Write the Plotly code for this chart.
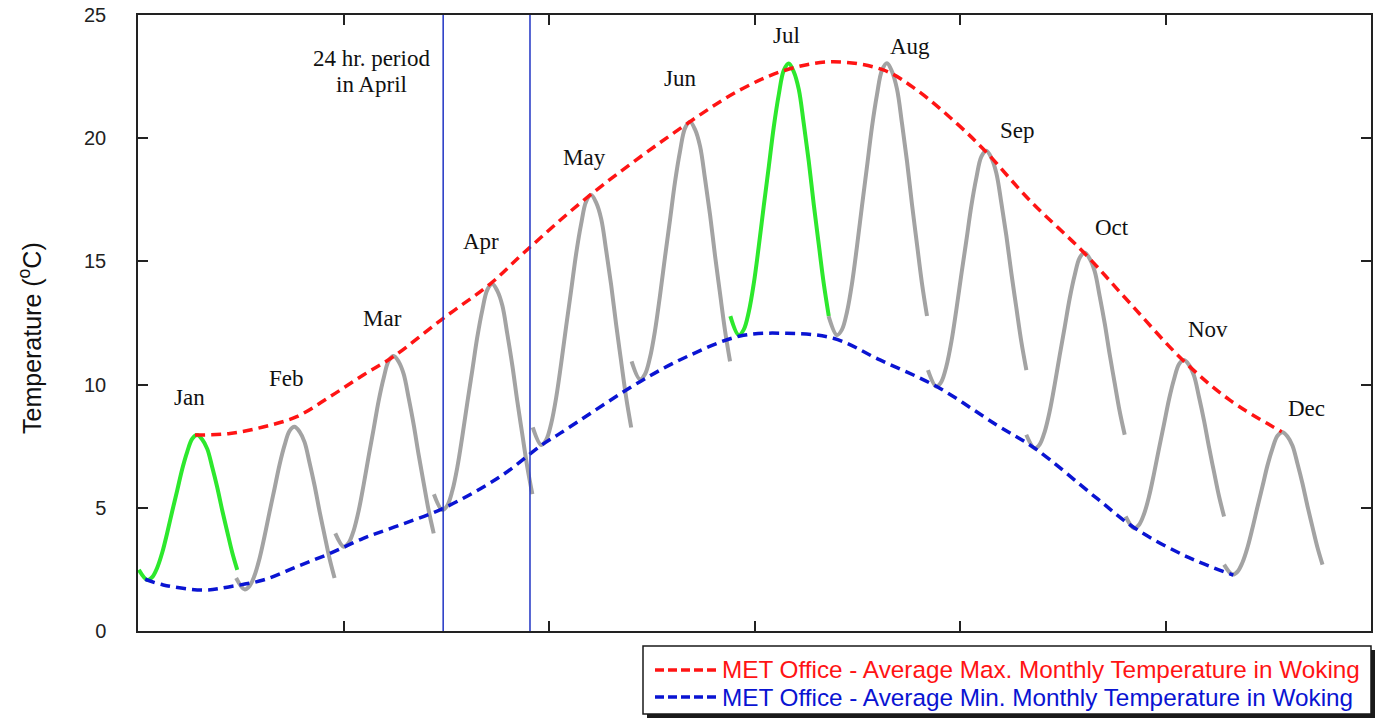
import plotly.graph_objects as go

# ---- Monthly typical-day temperature curves (x axis in months, 0..12) ----
MONTHS = ["Jan", "Feb", "Mar", "Apr", "May", "Jun",
          "Jul", "Aug", "Sep", "Oct", "Nov", "Dec"]
DAY_START = [0.008, 0.955, 1.92, 2.88, 3.842, 4.804,
             5.765, 6.721, 7.688, 8.645, 9.612, 10.57]
DAY_MIN = [2.07, 1.69, 3.42, 4.91, 7.55, 10.21,
           12.01, 12.01, 9.92, 7.41, 4.17, 2.29]
DAY_MAX = [7.95, 8.29, 11.16, 14.08, 17.69, 20.67,
           23.03, 23.04, 19.49, 15.35, 11.00, 8.07]
HIGHLIGHT_MONTHS = ["Jan", "Jul"]

# Shape of a typical day: offset from curve start (months) and
# fraction of the daily range between min and max
DAY_OFFSETS = [0.0, 0.082, 0.130, 0.179, 0.228, 0.276, 0.325, 0.374, 0.422, 0.471,
               0.520, 0.568, 0.617, 0.666, 0.714, 0.763, 0.812, 0.860, 0.909, 0.958]
DAY_PROFILE = [0.07, 0.0, 0.02, 0.085, 0.19, 0.325, 0.475, 0.62, 0.765, 0.885,
               0.975, 1.0, 0.97, 0.905, 0.78, 0.64, 0.48, 0.335, 0.19, 0.07]

# Month name labels
LABEL_X = [0.506, 1.45, 2.375, 3.338, 4.35, 5.275,
           6.307, 7.513, 8.564, 9.479, 10.414, 11.377]
LABEL_T = [9.46, 10.23, 12.70, 15.79, 19.2, 22.44,
           24.15, 23.74, 20.33, 16.36, 12.22, 9.01]

# MET Office average maximum monthly temperature curve
MAX_X = [0.555, 0.895, 1.217, 1.545, 1.869, 2.193, 2.494, 2.971, 3.426, 3.750,
         4.399, 5.372, 5.891, 6.329, 6.767, 7.253, 7.579, 7.968, 8.243, 8.681,
         9.207, 9.655, 10.167, 10.623, 11.131]
MAX_T = [7.95, 8.02, 8.28, 8.70, 9.51, 10.39, 11.16, 12.69, 14.08, 15.33,
         17.69, 20.67, 22.03, 22.80, 23.10, 22.77, 21.96, 20.60, 19.49, 17.47,
         15.35, 13.30, 11.00, 9.38, 8.09]

# MET Office average minimum monthly temperature curve
MIN_X = [0.07, 0.246, 0.636, 0.895, 1.219, 1.545, 1.869, 2.193, 2.55, 2.971,
         3.523, 3.929, 4.107, 4.886, 5.34, 5.859, 6.313, 6.767, 7.221, 7.773,
         8.357, 8.730, 9.33, 9.703, 10.206, 10.66]
MIN_T = [2.10, 1.87, 1.66, 1.80, 2.07, 2.61, 3.15, 3.76, 4.30, 4.98,
         6.26, 7.55, 8.02, 10.12, 11.13, 11.97, 12.08, 11.88, 11.0, 9.92,
         8.36, 7.41, 5.39, 4.17, 3.02, 2.27]

# 24 hour window marked in April
PERIOD_START = 2.970
PERIOD_END = 3.815

XTICKS = [2, 4, 6, 8, 10]
YTICKS = [0, 5, 10, 15, 20, 25]

MAX_NAME = "MET Office - Average Max. Monthly Temperature in Woking"
MIN_NAME = "MET Office - Average Min. Monthly Temperature in Woking"

GRAY = "#a3a3a3"
GREEN = "#2de82d"
RED = "#ff1414"
BLUE = "#0a14d2"
LINE_BLUE = "#2034c4"
SERIF = "Times New Roman, Liberation Serif, serif"
SANS = "Arial, Liberation Sans, sans-serif"

fig = go.Figure()

for name, x0, lo, hi in zip(MONTHS, DAY_START, DAY_MIN, DAY_MAX):
    xs = [x0 + d for d in DAY_OFFSETS]
    ys = [lo + f * (hi - lo) for f in DAY_PROFILE]
    colour = GREEN if name in HIGHLIGHT_MONTHS else GRAY
    fig.add_trace(go.Scatter(
        x=xs, y=ys, mode="lines", hoverinfo="skip", showlegend=False,
        line=dict(color=colour, width=4, shape="spline", smoothing=1.0),
    ))

fig.add_trace(go.Scatter(
    x=MAX_X, y=MAX_T, mode="lines", name=MAX_NAME, showlegend=False,
    line=dict(color=RED, width=3.5, dash="10px,6px", shape="spline", smoothing=1.0),
))
fig.add_trace(go.Scatter(
    x=MIN_X, y=MIN_T, mode="lines", name=MIN_NAME, showlegend=False,
    line=dict(color=BLUE, width=3.5, dash="10px,6px", shape="spline", smoothing=1.0),
))

# vertical markers of the 24 hour period
for xv in (PERIOD_START, PERIOD_END):
    fig.add_shape(type="line", xref="x", yref="paper", x0=xv, x1=xv, y0=0, y1=1,
                  line=dict(color=LINE_BLUE, width=1.5), layer="above")

annotations = []
for name, lx, ly in zip(MONTHS, LABEL_X, LABEL_T):
    annotations.append(dict(x=lx, y=ly, xref="x", yref="y", text=name, showarrow=False,
                            font=dict(family=SERIF, size=23, color="#111"),
                            xanchor="center", yanchor="middle"))
annotations.append(dict(x=2.272, y=23.24, xref="x", yref="y", text="24 hr. period",
                        showarrow=False, font=dict(family=SERIF, size=23, color="#111"),
                        xanchor="center", yanchor="middle"))
annotations.append(dict(x=2.272, y=22.16, xref="x", yref="y", text="in April",
                        showarrow=False, font=dict(family=SERIF, size=23, color="#111"),
                        xanchor="center", yanchor="middle"))

# y axis title
PLOT_L, PLOT_R, PLOT_T, PLOT_B = 138, 1371, 15, 631
W, H = 1383, 720


def px_x(px):
    return (px - PLOT_L) / (PLOT_R - PLOT_L)


def px_y(py):
    return (PLOT_B - py) / (PLOT_B - PLOT_T)


annotations.append(dict(x=px_x(30), y=px_y(338), xref="paper", yref="paper",
                        text="Temperature (<sup>o</sup>C)", textangle=-90, showarrow=False,
                        font=dict(family=SANS, size=25, color="#111"),
                        xanchor="center", yanchor="middle"))

# legend box with drop shadow
box_l, box_r, box_t, box_b = 643, 1371, 646, 714
fig.add_shape(type="rect", xref="paper", yref="paper",
              x0=px_x(box_l + 4), x1=px_x(box_r + 4), y0=px_y(box_b + 4), y1=px_y(box_t + 4),
              line=dict(width=0), fillcolor="#1a1a1a", layer="above")
fig.add_shape(type="rect", xref="paper", yref="paper",
              x0=px_x(box_l), x1=px_x(box_r), y0=px_y(box_b), y1=px_y(box_t),
              line=dict(color="#1a1a1a", width=1.5), fillcolor="white", layer="above")
for colour, name, row_y in ((RED, MAX_NAME, 670), (BLUE, MIN_NAME, 697)):
    fig.add_shape(type="line", xref="paper", yref="paper",
                  x0=px_x(655), x1=px_x(718), y0=px_y(row_y), y1=px_y(row_y),
                  line=dict(color=colour, width=3.5, dash="9px,4px"), layer="above")
    annotations.append(dict(x=px_x(720), y=px_y(row_y), xref="paper", yref="paper",
                            text=name, showarrow=False,
                            font=dict(family=SANS, size=24.3, color=colour),
                            xanchor="left", yanchor="middle"))

fig.update_layout(
    width=W, height=H,
    margin=dict(l=PLOT_L, r=W - PLOT_R, t=PLOT_T, b=H - PLOT_B, autoexpand=False),
    plot_bgcolor="white", paper_bgcolor="white",
    showlegend=False,
    annotations=annotations,
    xaxis=dict(range=[0, 12], tickvals=XTICKS, showticklabels=False, automargin=False,
               ticks="inside", ticklen=10, tickwidth=1.5, tickcolor="#222",
               showline=True, linecolor="#222", linewidth=1.5, mirror="ticks",
               showgrid=False, zeroline=False),
    yaxis=dict(range=[0, 25], tickvals=YTICKS, automargin=False,
               ticks="inside", ticklen=10, tickwidth=1.5, tickcolor="#222",
               tickfont=dict(family=SANS, size=20, color="#222"),
               ticklabelstandoff=26,
               showline=True, linecolor="#222", linewidth=1.5, mirror="ticks",
               showgrid=False, zeroline=False),
)

fig.write_html("out.html")
